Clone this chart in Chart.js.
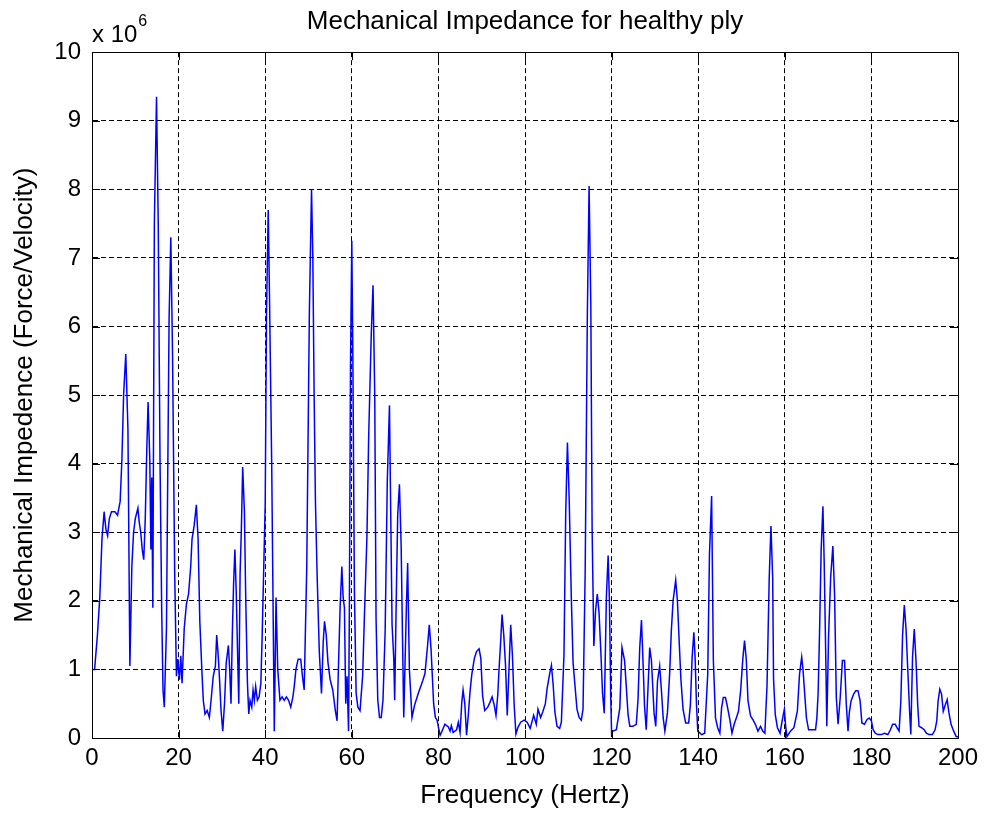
<!DOCTYPE html>
<html>
<head>
<meta charset="utf-8">
<script src="https://cdn.jsdelivr.net/npm/chart.js@4/dist/chart.umd.min.js"></script>
<style>
  html, body { margin: 0; padding: 0; background: #fff; }
  #wrap { width: 985px; height: 816px; }
</style>
</head>
<body>
<div id="wrap"><canvas id="impedance-chart" width="985" height="816"></canvas></div>
<script>
// frequency (Hz) and impedance (x 10^6)
const frequency = [
  0, 0.6, 1.25, 1.8, 2.3, 2.8, 3.2, 3.6, 4.0, 4.5, 5.3, 5.9, 6.5, 6.9, 7.3, 7.8, 8.3, 8.75, 9.2, 9.6,
  10.0, 10.6, 10.9, 11.25, 11.6, 11.95, 12.3, 12.65, 12.95, 13.35, 13.6, 13.8, 14.05, 14.4, 14.9, 15.3, 15.7, 16.1, 16.4, 16.7,
  17.2, 17.5, 17.8, 18.2, 18.6, 19.1, 19.5, 19.8, 20.2, 20.5, 20.8, 21.3, 21.8, 22.3, 22.8, 23.1, 23.6, 24.1, 24.5, 24.9,
  25.4, 25.7, 26.1, 26.6, 27.1, 27.5, 28.0, 28.5, 28.8, 29.2, 29.5, 29.8, 30.2, 30.6, 31.0, 31.5, 31.8, 32.1, 32.4, 32.7,
  33.0, 33.3, 33.6, 33.9, 34.2, 34.5, 34.8, 35.2, 35.5, 35.9, 36.2, 36.5, 36.9, 37.2, 37.5, 37.8, 38.2, 38.6, 39.0, 39.3,
  40.0, 40.3, 40.7, 41.0, 41.5, 41.9, 42.1, 42.5, 42.9, 43.4, 43.9, 44.4, 44.9, 45.4, 45.9, 46.4, 46.7, 47.1, 47.6, 48.2,
  48.6, 49.0, 49.6, 50.2, 50.7, 51.0, 51.3, 51.6, 52.0, 52.5, 53.0, 53.4, 53.7, 54.1, 54.5, 55.0, 55.6, 56.2, 56.6, 56.9,
  57.3, 57.7, 58.0, 58.3, 58.6, 58.9, 59.25, 59.45, 59.7, 60.0, 60.25, 60.6, 61.0, 61.4, 61.9, 62.5, 62.9, 63.5, 63.9, 64.5,
  64.9, 65.3, 65.6, 66.0, 66.4, 66.8, 67.2, 67.7, 68.2, 68.7, 68.9, 69.3, 69.7, 69.9, 70.3, 70.6, 71.0, 71.4, 71.7, 72.0,
  72.6, 72.9, 73.3, 73.9, 74.5, 75.4, 76.4, 76.9, 77.5, 77.9, 78.3, 78.9, 79.3, 79.7, 80.0, 80.4, 80.7, 81.5, 82.3, 82.7,
  83.0, 83.4, 84.2, 84.6, 85.0, 85.4, 85.7, 86.1, 86.5, 86.9, 87.3, 87.7, 88.3, 88.8, 89.4, 89.8, 90.2, 90.7, 91.4, 91.9,
  92.4, 92.9, 93.3, 93.7, 94.0, 94.4, 94.7, 95.1, 95.5, 95.9, 96.3, 96.7, 97.1, 97.5, 97.9, 98.4, 99.0, 99.8, 100.5, 101.2,
  102.0, 102.6, 103.0, 103.6, 104.1, 104.7, 105.1, 105.7, 106.1, 106.5, 106.9, 107.4, 108.0, 108.4, 109.0, 109.4, 109.8, 110.2, 110.7, 111.1,
  111.6, 112.0, 112.5, 113.0, 113.4, 113.9, 114.4, 114.8, 115.2, 115.5, 115.9, 116.3, 116.7, 117.1, 117.5, 117.9, 118.3, 118.8, 119.2, 119.5,
  119.8, 120.0, 120.3, 121.1, 121.9, 122.4, 123.0, 123.4, 123.8, 124.2, 124.9, 125.7, 126.1, 126.5, 126.9, 127.3, 127.6, 128.0, 128.8, 129.2,
  129.4, 129.8, 130.2, 130.6, 131.1, 131.5, 131.9, 132.3, 132.9, 133.4, 133.8, 134.2, 134.8, 135.2, 135.6, 136.0, 136.5, 137.1, 137.8, 138.2,
  138.6, 139.0, 139.3, 139.6, 139.9, 140.8, 141.5, 142.2, 142.6, 143.1, 143.5, 144.0, 144.5, 145.0, 145.4, 145.8, 146.3, 146.7, 147.3, 147.8,
  148.3, 148.8, 149.3, 149.8, 150.3, 150.7, 151.1, 151.5, 152.1, 152.6, 153.2, 153.8, 154.4, 154.9, 155.4, 155.9, 156.4, 156.8, 157.2, 157.4,
  157.8, 158.3, 158.9, 159.5, 159.9, 160.2, 160.5, 161.3, 162.1, 162.9, 163.4, 163.9, 164.2, 164.6, 165.0, 165.5, 166.3, 167.1, 167.4, 167.7,
  168.0, 168.4, 168.8, 169.1, 169.5, 169.7, 170.1, 170.6, 171.1, 171.5, 171.9, 172.3, 172.8, 173.3, 173.8, 174.2, 174.6, 174.9, 175.3, 175.9,
  176.4, 176.9, 177.4, 177.8, 178.4, 179.0, 179.5, 180.0, 180.4, 180.9, 181.5, 182.3, 183.0, 183.8, 184.4, 184.9, 185.5, 185.9, 186.4, 186.8,
  187.2, 187.6, 188.0, 188.4, 188.8, 189.1, 189.5, 189.9, 190.3, 190.7, 191.0, 191.6, 192.2, 192.7, 193.3, 194.1, 194.7, 195.1, 195.4, 195.8,
  196.2, 196.6, 197.0, 197.5, 197.9, 198.4, 199.0, 199.6, 200.0
];

const impedance = [
  1.0, 1.0, 1.5, 2.05, 2.9, 3.3, 3.05, 2.95, 3.2, 3.3, 3.3, 3.25, 3.45, 4.05, 5.0, 5.6, 4.5, 1.05, 2.5, 3.0,
  3.2, 3.35, 3.15, 3.0, 2.75, 2.6, 3.2, 4.2, 4.9, 4.05, 2.75, 3.8, 1.9, 7.5, 9.35, 7.5, 4.1, 1.85, 0.7, 0.45,
  1.6, 3.9, 6.1, 7.3, 5.6, 2.4, 0.9, 1.15, 0.85, 1.2, 0.8, 1.6, 1.95, 2.1, 2.5, 2.9, 3.1, 3.4, 2.9, 1.7,
  0.95, 0.55, 0.35, 0.4, 0.3, 0.55, 0.9, 1.05, 1.5, 1.15, 0.8, 0.4, 0.1, 0.5, 1.1, 1.35, 1.0, 0.5, 1.5, 2.25,
  2.75, 2.15, 1.3, 0.5, 2.4, 3.05, 3.95, 3.3, 2.05, 0.8, 0.35, 0.55, 0.45, 0.7, 0.55, 0.75, 0.55, 0.6, 0.8, 1.5,
  3.4, 6.2, 7.7, 6.4, 4.0, 1.4, 0.1, 2.05, 1.0, 0.55, 0.6, 0.55, 0.6, 0.55, 0.45, 0.6, 0.75, 1.0, 1.15, 1.15,
  0.9, 0.7, 2.5, 6.2, 8.0, 7.0, 5.0, 3.45, 2.35, 1.25, 0.65, 1.4, 1.7, 1.5, 1.1, 0.85, 0.7, 0.4, 0.25, 1.0,
  1.9, 2.5, 2.05, 1.9, 0.5, 0.9, 0.1, 2.0, 5.45, 7.25, 5.5, 2.15, 0.65, 0.45, 0.4, 0.9, 1.75, 2.95, 4.4, 5.9,
  6.6, 5.0, 1.75, 0.55, 0.3, 0.3, 0.55, 1.55, 3.75, 4.85, 3.75, 1.65, 1.15, 0.55, 2.15, 3.25, 3.7, 2.8, 1.5, 0.3,
  1.9, 2.55, 1.0, 0.3, 0.48, 0.66, 0.84, 0.94, 1.35, 1.65, 1.3, 0.5, 0.3, 0.26, 0.16, 0.04, 0.08, 0.2, 0.16, 0.1,
  0.18, 0.08, 0.12, 0.23, 0.08, 0.52, 0.7, 0.5, 0.04, 0.33, 0.67, 0.92, 1.16, 1.26, 1.3, 1.16, 0.62, 0.4, 0.45, 0.52,
  0.6, 0.48, 0.33, 0.62, 1.0, 1.43, 1.8, 1.5, 1.06, 0.33, 1.0, 1.65, 1.2, 0.48, 0.06, 0.16, 0.23, 0.26, 0.23, 0.14,
  0.33, 0.2, 0.42, 0.3, 0.38, 0.5, 0.72, 0.94, 1.06, 0.78, 0.38, 0.17, 0.14, 0.23, 1.21, 3.27, 4.31, 3.5, 2.04, 1.1,
  0.72, 0.42, 0.3, 0.26, 0.42, 2.44, 6.18, 8.05, 6.33, 3.05, 1.34, 1.86, 2.1, 1.83, 1.28, 0.66, 0.36, 2.07, 2.66, 2.0,
  0.6, 0.07, 0.1, 0.12, 0.44, 1.32, 1.13, 0.74, 0.34, 0.17, 0.17, 0.2, 0.56, 1.32, 1.72, 1.03, 0.47, 0.12, 1.32, 1.13,
  0.88, 0.37, 0.17, 0.83, 1.05, 0.7, 0.3, 0.1, 0.37, 0.93, 1.57, 2.0, 2.3, 2.0, 1.42, 0.86, 0.42, 0.22, 0.22, 0.49,
  1.18, 1.54, 1.15, 0.49, 0.1, 0.05, 0.07, 0.93, 2.67, 3.53, 1.13, 0.29, 0.15, 0.07, 0.44, 0.59, 0.59, 0.47, 0.27, 0.07,
  0.2, 0.29, 0.39, 0.69, 1.15, 1.42, 1.15, 0.54, 0.32, 0.27, 0.2, 0.1, 0.17, 0.1, 0.07, 0.78, 2.33, 3.09, 2.33, 0.86,
  0.34, 0.15, 0.07, 0.29, 0.42, 0.17, 0.02, 0.1, 0.15, 0.39, 0.93, 1.18, 1.0, 0.64, 0.29, 0.12, 0.12, 0.12, 0.29, 0.66,
  1.47, 2.75, 3.38, 2.55, 1.03, 0.17, 1.47, 2.35, 2.8, 2.08, 0.59, 0.2, 0.59, 1.13, 1.13, 0.49, 0.1, 0.37, 0.54, 0.64,
  0.69, 0.69, 0.54, 0.22, 0.2, 0.27, 0.29, 0.25, 0.12, 0.07, 0.05, 0.05, 0.07, 0.05, 0.12, 0.2, 0.2, 0.15, 0.1, 0.54,
  1.5, 1.94, 1.59, 1.0, 0.42, 0.05, 1.18, 1.59, 1.13, 0.47, 0.17, 0.15, 0.12, 0.07, 0.05, 0.05, 0.12, 0.25, 0.54, 0.71,
  0.64, 0.39, 0.47, 0.56, 0.37, 0.2, 0.1, 0.02, 0.02
];

const xTicks = [0, 20, 40, 60, 80, 100, 120, 140, 160, 180, 200];
const yTicks = [0, 1, 2, 3, 4, 5, 6, 7, 8, 9, 10];

const FONT = "'Liberation Sans', Arial, sans-serif";

// matlab style box, inward ticks and the x 10^6 multiplier
const matlabAxes = {
  id: 'matlabAxes',
  afterDraw(chart) {
    const { ctx, chartArea: a, scales } = chart;
    ctx.save();
    ctx.strokeStyle = '#000';
    ctx.lineWidth = 1;
    ctx.setLineDash([]);
    ctx.beginPath();
    scales.x.ticks.forEach(t => {
      const px = Math.round(scales.x.getPixelForValue(t.value)) + 0.5;
      ctx.moveTo(px, a.bottom); ctx.lineTo(px, a.bottom - 8);
      ctx.moveTo(px, a.top); ctx.lineTo(px, a.top + 8);
    });
    scales.y.ticks.forEach(t => {
      const py = Math.round(scales.y.getPixelForValue(t.value)) + 0.5;
      ctx.moveTo(a.left, py); ctx.lineTo(a.left + 8, py);
      ctx.moveTo(a.right, py); ctx.lineTo(a.right - 8, py);
    });
    ctx.stroke();
    ctx.strokeRect(Math.round(a.left) + 0.5, Math.round(a.top) + 0.5,
      Math.round(a.right - a.left), Math.round(a.bottom - a.top));

    ctx.fillStyle = '#000';
    ctx.textAlign = 'left';
    ctx.textBaseline = 'alphabetic';
    ctx.font = '24px ' + FONT;
    ctx.fillText('x 10', a.left, a.top - 10);
    const w = ctx.measureText('x 10').width;
    ctx.font = '16px ' + FONT;
    ctx.fillText('6', a.left + w + 1, a.top - 26);
    ctx.restore();
  }
};

new Chart(document.getElementById('impedance-chart'), {
  type: 'line',
  data: {
    datasets: [{
      data: frequency.map((f, i) => ({ x: f, y: impedance[i] })),
      borderColor: '#0000ff',
      borderWidth: 1.5,
      pointRadius: 0,
      tension: 0,
      fill: false
    }]
  },
  options: {
    responsive: false,
    animation: false,
    layout: { padding: { left: 0, right: 27, top: 0, bottom: 0 } },
    plugins: {
      legend: { display: false },
      tooltip: { enabled: false },
      title: {
        display: true,
        fullSize: false,
        text: 'Mechanical Impedance for healthy ply',
        color: '#000',
        font: { family: FONT, size: 26, weight: 'normal', lineHeight: 1.2 },
        padding: { top: 6, bottom: 15 }
      }
    },
    scales: {
      x: {
        type: 'linear',
        min: 0,
        max: 200,
        afterBuildTicks: s => { s.ticks = xTicks.map(v => ({ value: v })); },
        afterFit: s => { s.height = 78; },
        ticks: { color: '#000', font: { family: FONT, size: 24 }, padding: 6, maxRotation: 0 },
        grid: { color: '#000', lineWidth: 1, drawTicks: false },
        border: { display: true, color: '#000', dash: [5, 3] },
        title: {
          display: true,
          text: 'Frequency (Hertz)',
          color: '#000',
          font: { family: FONT, size: 26, lineHeight: 1.2 },
          padding: { top: 0, bottom: 5 }
        }
      },
      y: {
        min: 0,
        max: 10,
        afterBuildTicks: s => { s.ticks = yTicks.map(v => ({ value: v })); },
        afterFit: s => { s.width = 92; },
        ticks: { color: '#000', font: { family: FONT, size: 24 }, padding: 11 },
        grid: { color: '#000', lineWidth: 1, drawTicks: false },
        border: { display: true, color: '#000', dash: [5, 3] },
        title: {
          display: true,
          text: 'Mechanical Impedence (Force/Velocity)',
          color: '#000',
          font: { family: FONT, size: 26, lineHeight: 1.2 },
          padding: { top: 9, bottom: 0 }
        }
      }
    }
  },
  plugins: [matlabAxes]
});
</script>
</body>
</html>
